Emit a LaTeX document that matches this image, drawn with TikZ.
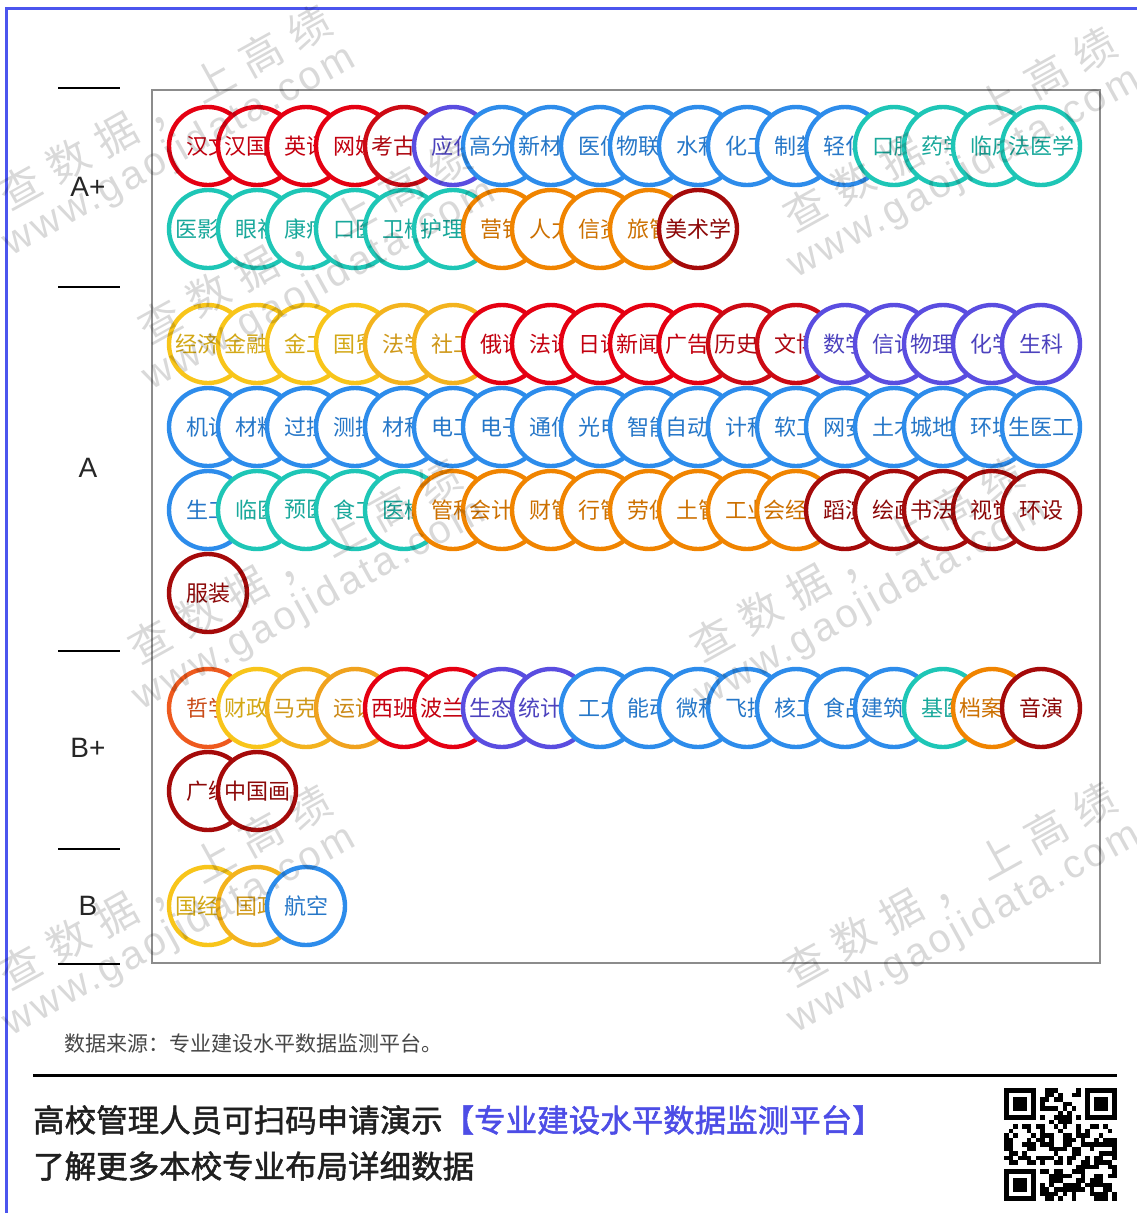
\documentclass[tikz,border=0pt]{standalone}
\usepackage{fontspec}
\setmainfont{Liberation Sans}
\newfontfamily\cjk{Noto Sans CJK SC}[AutoFakeBold=1.6]
\newfontfamily\wmfont{Liberation Sans}[LetterSpace=8]
\definecolor{cred}{HTML}{E50012}
\definecolor{chist}{HTML}{CC0A14}
\definecolor{cdred}{HTML}{A50A0A}
\definecolor{cpur}{HTML}{5A4DE0}
\definecolor{cblue}{HTML}{2D8CEB}
\definecolor{cteal}{HTML}{1EC6B6}
\definecolor{corg}{HTML}{F08400}
\definecolor{cecon}{HTML}{F8C51A}
\definecolor{claw}{HTML}{F3B31E}
\definecolor{cedu}{HTML}{F0A21E}
\definecolor{cphil}{HTML}{EE5A1E}
\definecolor{cframe}{HTML}{4B55EE}
\definecolor{ctab}{HTML}{4D4DE6}
\newcommand\hid{\hphantom{字}}
\tikzset{
  mj/.style={circle, draw=#1, line width=4.4pt, fill=white, minimum size=78pt,
    inner sep=0pt, text=#1!85!black, font=\cjk\fontsize{22}{22}\selectfont},
  grade/.style={font=\fontsize{28}{28}\selectfont, text=black!85},
  sep/.style={line width=2pt, black},
  wm/.style={text=black, text opacity=0.15, inner sep=0pt, rotate=29, anchor=west},
}
\newcommand\crow[3]{\foreach \c/\t [count=\i from 0] in {#3} {\node[mj=\c] (#1-\i) at ({208+49*\i},#2) {\t};}}
\newcommand\wmark[3]{%
  \node[wm, font=\cjk\fontsize{42}{42}\selectfont] (#1a) at (#2-18,#3+10)
    {查\hspace{13pt}数\hspace{13pt}据\hspace{13pt}，\hspace{13pt}上\hspace{13pt}高\hspace{13pt}绩};
  \node[wm, font=\wmfont\fontsize{40}{40}\selectfont] (#1b) at (#2-14,#3+60) {www.gaojidata.com};
}
\begin{document}
\begin{tikzpicture}[x=1pt,y=-1pt]
\useasboundingbox (0,0) rectangle (1137,1213);
\fill[white] (0,0) rectangle (1137,1213);
% outer blue border
\draw[cframe, line width=3pt] (6,1213) -- (6,8) -- (1137,8);
% chart frame
\draw[black!45, line width=1.6pt] (152,90) rectangle (1100,963);
% grade separators
\foreach \yy [count=\k] in {88,287,651,849,964} \draw[sep] (58,\yy) coordinate (s\k a) -- (120,\yy) coordinate (s\k b);
\node[grade] (gAp) at (88,187) {A+};
\node[grade] (gA) at (88,468) {A};
\node[grade] (gBp) at (88,748) {B+};
\node[grade] (gB) at (88,906) {B};
% rows
\crow{r1}{146}{cred/汉文, cred/汉国\hid, cred/英语, cred/网媒, chist/考古\hid, cpur/应化, cblue/高分\hid, cblue/新材\hid, cblue/医信, cblue/物联\hid, cblue/水利, cblue/化工, cblue/制药, cblue/轻化, cteal/口腔, cteal/药学, cteal/临床, cteal/法医学}
\crow{r2}{229}{cteal/医影\hid, cteal/眼视, cteal/康疗, cteal/口医, cteal/卫检, cteal/护理\hid, corg/营销, corg/人力, corg/信资, corg/旅管, cdred/美术学}
\crow{r3}{344}{cecon/经济\hid, cecon/金融\hid, cecon/金工, cecon/国贸, claw/法学, claw/社工, cred/俄语, cred/法语, cred/日语, cred/新闻\hid, cred/广告\hid, chist/历史\hid, chist/文博, cpur/数学, cpur/信计, cpur/物理\hid, cpur/化学, cpur/生科}
\crow{r4}{427}{cblue/机设, cblue/材料, cblue/过控, cblue/测控, cblue/材科, cblue/电工, cblue/电子, cblue/通信, cblue/光电, cblue/智能, cblue/自动\hid, cblue/计科, cblue/软工, cblue/网安, cblue/土木, cblue/城地\hid, cblue/环境, cblue/生医工}
\crow{r5}{510}{cblue/生工, cteal/临医, cteal/预医, cteal/食工, cteal/医检, corg/管科, corg/会计\hid, corg/财管, corg/行管, corg/劳保, corg/土管, corg/工业, corg/会经\hid, cdred/蹈演, cdred/绘画, cdred/书法\hid, cdred/视觉, cdred/环设}
\crow{r6}{593}{cdred/服装}
\crow{r7}{708}{cphil/哲学, cecon/财政\hid, claw/马克\hid, cedu/运训, cred/西班\hid, cred/波兰\hid, cpur/生态\hid, cpur/统计\hid, cblue/工力, cblue/能动, cblue/微科, cblue/飞控, cblue/核工, cblue/食品, cblue/建筑\hid, cteal/基医, corg/档案\hid, cdred/音演}
\crow{r8}{791}{cdred/广编, cdred/中国画}
\crow{r9}{906}{cecon/国经\hid, claw/国政, cblue/航空}
% footer
\node[anchor=west, inner sep=0pt, font=\cjk\fontsize{21}{21}\selectfont, text=black!72] (src) at (64,1043) {数据来源：专业建设水平数据监测平台。};
\draw[line width=3pt, black] (33,1075) coordinate (ruleL) -- (1117,1075) coordinate (ruleR);
\node[anchor=west, inner sep=0pt, font=\cjk\bfseries\fontsize{31.5}{31.5}\selectfont, text=black!88] (cta1) at (33,1120) {高校管理人员可扫码申请演示\textcolor{ctab}{【专业建设水平数据监测平台】}};
\node[anchor=west, inner sep=0pt, font=\cjk\bfseries\fontsize{31.5}{31.5}\selectfont, text=black!88] (cta2) at (33,1166) {了解更多本校专业布局详细数据};
% QR-like code
\begin{scope}[shift={(1004,1088)}]
  \pgfmathsetseed{11}
  \foreach \r in {0,...,24}{\foreach \s in {0,...,24}{
    \pgfmathtruncatemacro\inf{((\r<8)&&(\s<8))||((\r<8)&&(\s>16))||((\r>16)&&(\s<8)) ? 1 : 0}
    \pgfmathrandominteger{\rv}{0}{1}
    \ifnum\inf=0 \ifnum\rv=1 \fill[black] ({\s*4.5},{\r*4.5}) rectangle ++(4.5,4.5); \fi\fi
  }}
  \foreach \ox/\oy in {0/0, 18/0, 0/18}{
    \fill[black] ({\ox*4.5},{\oy*4.5}) rectangle ++(31.5,31.5);
    \fill[white] ({\ox*4.5+4.5},{\oy*4.5+4.5}) rectangle ++(22.5,22.5);
    \fill[black] ({\ox*4.5+9},{\oy*4.5+9}) rectangle ++(13.5,13.5);
  }
\end{scope}
% watermarks
\wmark{w1}{20}{188}
\wmark{w2}{160}{322}
\wmark{w4}{150}{642}
\wmark{w5}{712}{640}
\wmark{w6}{20}{968}
\wmark{w7}{805}{965}
\wmark{w8}{805}{210}
\end{tikzpicture}
\end{document}
